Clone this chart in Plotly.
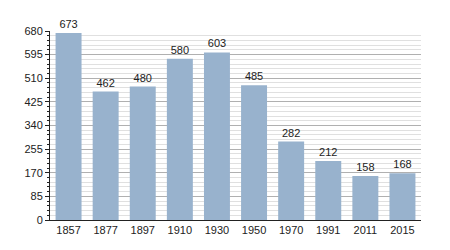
import plotly.graph_objects as go

years = ["1857", "1877", "1897", "1910", "1930", "1950", "1970", "1991", "2011", "2015"]
population = [673, 462, 480, 580, 603, 485, 282, 212, 158, 168]
y_ticks = [0, 85, 170, 255, 340, 425, 510, 595, 680]

fig = go.Figure(
    go.Bar(
        x=years,
        y=population,
        marker=dict(color="#98b2cd", line=dict(width=0)),
        text=[str(v) for v in population],
        textposition="outside",
        textfont=dict(family="Liberation Sans, Arial, sans-serif", size=11, color="#222"),
        cliponaxis=False,
    )
)

fig.update_layout(
    width=450,
    height=250,
    margin=dict(l=50, r=29, t=31, b=30),
    paper_bgcolor="white",
    plot_bgcolor="white",
    bargap=0.3,
    showlegend=False,
    font=dict(family="Liberation Sans, Arial, sans-serif", size=11, color="#222"),
    xaxis=dict(
        type="category",
        showline=True,
        linecolor="#222",
        linewidth=1,
        ticks="",
        showgrid=False,
        tickfont=dict(size=11),
    ),
    yaxis=dict(
        range=[0, 680],
        tickvals=y_ticks,
        showline=True,
        linecolor="#222",
        linewidth=1,
        ticks="outside",
        ticklen=4,
        tickcolor="#222",
        gridcolor="#b0b0b0",
        gridwidth=1,
        zeroline=False,
        minor=dict(
            dtick=17,
            tick0=0,
            ticks="outside",
            ticklen=2,
            tickcolor="#222",
            showgrid=True,
            gridcolor="#e0e0e0",
            gridwidth=1,
        ),
        tickfont=dict(size=11),
    ),
)

fig.write_html("out.html")
